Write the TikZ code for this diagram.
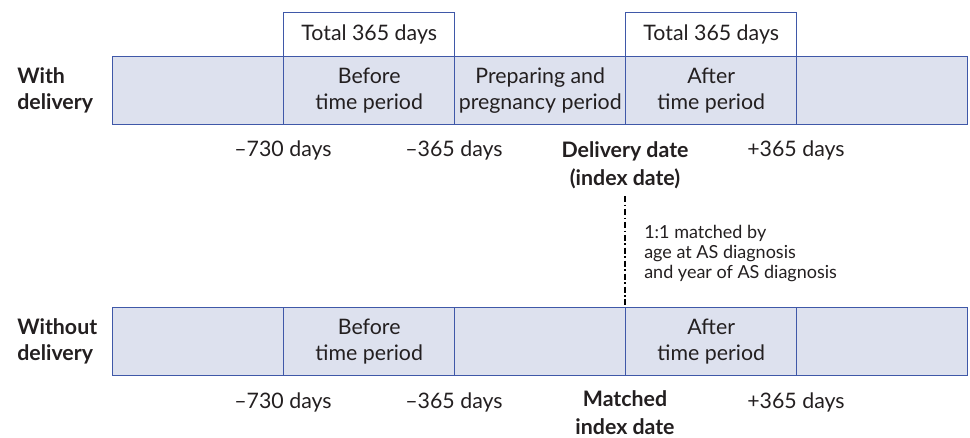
\documentclass[tikz,border=0pt]{standalone}
\usepackage{fontspec}
\setmainfont{Lato}
\definecolor{bfill}{HTML}{DDE1EE}
\definecolor{bline}{HTML}{3F58A8}
\definecolor{txt}{HTML}{231F20}
\begin{document}
\begin{tikzpicture}[x=0.75pt,y=-0.75pt,
  font=\fontsize{16}{19.5}\selectfont, text=txt,
  seg/.style={draw=bline, fill=bfill, line width=1.1pt, minimum width=128.25pt, minimum height=51pt, inner sep=0pt, align=center, anchor=north west},
  tot/.style={draw=bline, fill=white, line width=1.1pt, minimum width=128.25pt, minimum height=33pt, inner sep=0pt, anchor=north west},
  lab/.style={align=center, inner sep=0pt},
  blab/.style={align=center, inner sep=0pt, font=\fontsize{16}{21}\selectfont\bfseries},
  rowlab/.style={align=left, inner sep=0pt, anchor=west, font=\fontsize{16}{19.5}\selectfont\bfseries},
  note/.style={align=left, inner sep=0pt, anchor=north west, font=\fontsize{13.5}{15}\selectfont},
  matchline/.style={line width=1.5pt, dash pattern=on 4.5pt off 2pt on 1.2pt off 2pt}]
\useasboundingbox (0,0) rectangle (970,437);
% top row
\node[tot] (t1) at (283,12) {Total 365 days};
\node[tot] (t2) at (625,12) {Total 365 days};
\node[seg] (a1) at (112,56) {};
\node[seg] (a2) at (283,56) {Before\\time period};
\node[seg] (a3) at (454,56) {Preparing and\\pregnancy period};
\node[seg] (a4) at (625,56) {After\\time period};
\node[seg] (a5) at (796,56) {};
\node[rowlab] (r1) at (17,90) {With\\delivery};
\node[lab] (l1) at (283,150) {--730 days};
\node[lab] (l2) at (454,150) {--365 days};
\node[blab, anchor=north] (l3) at (625,141) {Delivery date\\(index date)};
\node[lab] (l4) at (796,150) {+365 days};
% bottom row
\node[seg] (b1) at (112,307) {};
\node[seg] (b2) at (283,307) {Before\\time period};
\node[seg] (b3) at (454,307) {};
\node[seg] (b4) at (625,307) {After\\time period};
\node[seg] (b5) at (796,307) {};
\node[rowlab] (r2) at (17,341) {Without\\delivery};
\node[lab] (m1) at (283,402) {--730 days};
\node[lab] (m2) at (454,402) {--365 days};
\node[blab, anchor=north] (m3) at (625,390) {Matched\\index date};
\node[lab] (m4) at (796,402) {+365 days};
% matching
\coordinate (dtop) at (625,196);
\draw[matchline] (dtop) -- (b4.north west);
\node[note] (n1) at (644,225) {1:1 matched by\\age at AS diagnosis\\and year of AS diagnosis};
\end{tikzpicture}
\end{document}
